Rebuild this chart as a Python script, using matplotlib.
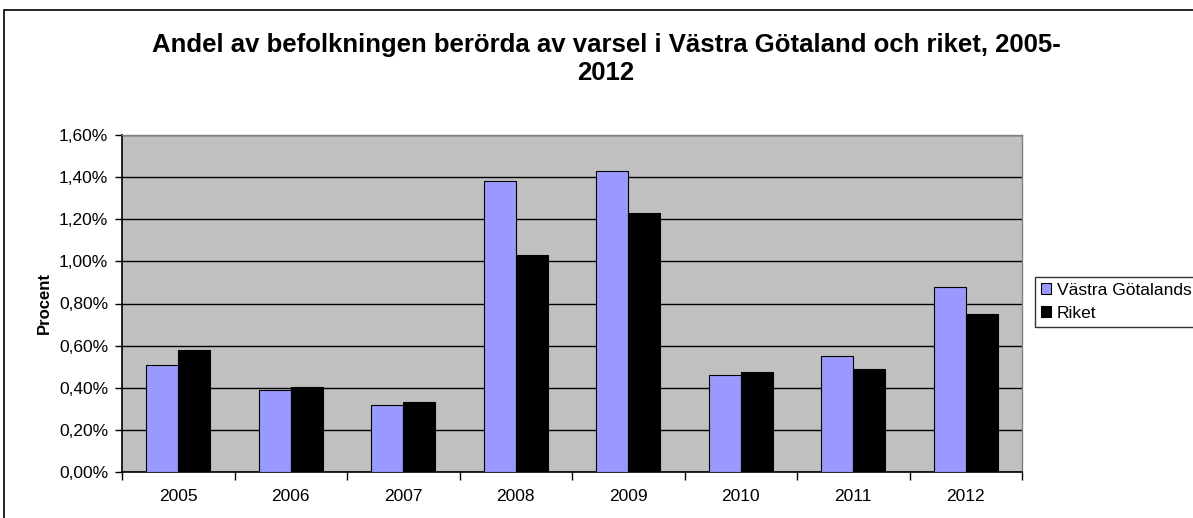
import matplotlib
matplotlib.use("Agg")
import matplotlib.pyplot as plt
from matplotlib.patches import Rectangle
from matplotlib.ticker import FuncFormatter, FixedLocator
import numpy as np

plt.rcParams['font.family'] = ['Liberation Sans', 'DejaVu Sans']

years = ["2005", "2006", "2007", "2008", "2009", "2010", "2011", "2012"]
vastra_gotaland = [0.51, 0.39, 0.32, 1.38, 1.43, 0.46, 0.55, 0.88]
riket = [0.58, 0.405, 0.33, 1.03, 1.23, 0.475, 0.49, 0.75]
series_names = ["Västra Götalands", "Riket"]
title = "Andel av befolkningen berörda av varsel i Västra Götaland och riket, 2005-\n2012"

W, H = 1193, 518
fig = plt.figure(figsize=(W / 100, H / 100), dpi=100)
fig.patch.set_facecolor("white")

# outer chart border (cropped on right/bottom)
fig.patches.append(Rectangle((4 / W, -0.1), 1.2, (H - 10) / H + 0.1, transform=fig.transFigure,
                             fill=False, edgecolor="black", linewidth=1.2, zorder=0))

l, r, t, b = 122, 1022, 135, 472
ax = fig.add_axes([l / W, 1 - b / H, (r - l) / W, (b - t) / H])
ax.set_facecolor("#C0C0C0")

x = np.arange(len(years))
bw = 0.2857
ax.bar(x - bw / 2, vastra_gotaland, bw, color="#9999FF", edgecolor="black", linewidth=0.8,
       label=series_names[0], zorder=3)
ax.bar(x + bw / 2, riket, bw, color="black", edgecolor="black", linewidth=0.8,
       label=series_names[1], zorder=3)

ax.set_xlim(-0.5, len(years) - 0.5)
ax.set_ylim(0, 1.6)
ax.set_yticks(np.arange(0, 1.61, 0.2))
ax.yaxis.set_major_formatter(FuncFormatter(lambda v, p: f"{v:.2f}%".replace(".", ",")))
ax.grid(axis="y", color="black", linewidth=1.0, zorder=1)

ax.xaxis.set_major_locator(FixedLocator(np.arange(-0.5, len(years), 1.0)))
ax.xaxis.set_minor_locator(FixedLocator(x))
ax.set_xticklabels([])
ax.set_xticklabels(years, minor=True)
ax.tick_params(axis="x", which="major", length=6, width=1, color="black")
ax.tick_params(axis="x", which="minor", length=0, labelsize=12.5, pad=12)
ax.tick_params(axis="y", length=5, width=1, color="black", labelsize=12.5, pad=5)

for s in ["top", "right"]:
    ax.spines[s].set_color("#808080")
    ax.spines[s].set_linewidth(1.0)
for s in ["left", "bottom"]:
    ax.spines[s].set_color("black")
    ax.spines[s].set_linewidth(1.2)

fig.text(44 / W, 1 - 303 / H, "Procent", rotation=90, ha="center", va="center",
         fontsize=12, fontweight="bold")

fig.text(606 / W, 1 - 59 / H, title, ha="center", va="center", fontsize=18.5,
         fontweight="bold", linespacing=1.25)

leg = ax.legend(loc="center left", bbox_to_anchor=(1035 / W, 1 - 302 / H),
                bbox_transform=fig.transFigure, frameon=True, fancybox=False,
                edgecolor="black", fontsize=12.5, handlelength=0.6, handleheight=0.6,
                handletextpad=0.3, borderpad=0.35, labelspacing=0.45, borderaxespad=0)
leg.get_frame().set_linewidth(1.0)

fig.savefig("out.png", dpi=100, facecolor="white")
